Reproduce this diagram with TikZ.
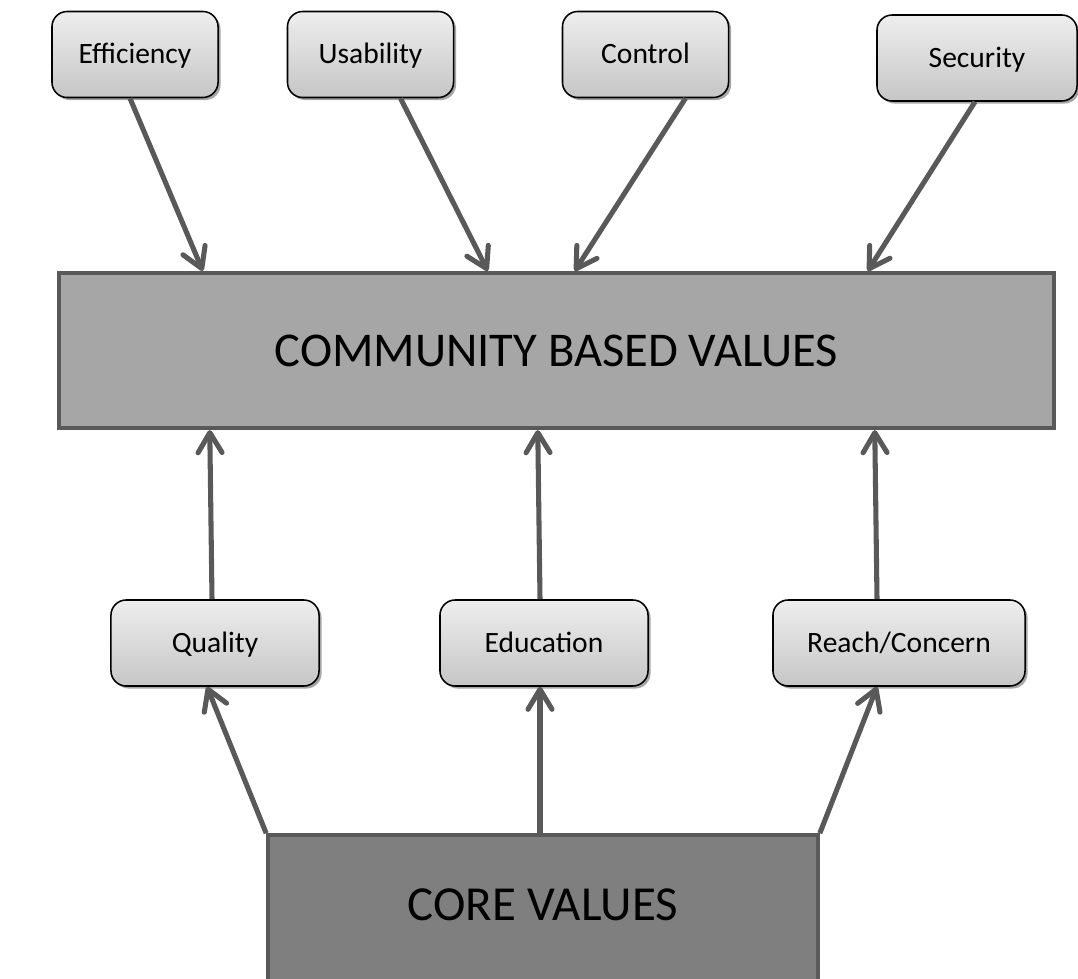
\documentclass[tikz,border=0pt]{standalone}
\usepackage{fontspec}
\setmainfont{Carlito}
\usetikzlibrary{arrows.meta,shadows,calc}
\definecolor{val_light}{RGB}{238,238,238}
\definecolor{val_dark}{RGB}{198,198,198}
\definecolor{val_mid}{RGB}{166,166,166}
\definecolor{val_core}{RGB}{127,127,127}
\definecolor{val_line}{RGB}{89,89,89}
\tikzstyle{sn}=[rectangle,rounded corners=0.38cm,top color=val_light,bottom color=val_dark,
  draw=black,line width=1.1pt,inner sep=3pt,minimum width=4.15cm,minimum height=2.15cm,
  font=\fontsize{21}{25}\selectfont,text height=13.5pt,text depth=0pt,
  drop shadow={shadow xshift=1.8pt,shadow yshift=-1.8pt,fill=black,opacity=0.35}]
\tikzstyle{cn}=[rectangle,fill=val_mid,draw=val_line,line width=3pt,
  minimum width=24.875cm,minimum height=3.875cm,font=\fontsize{34.5}{41}\selectfont,
  text height=22.2pt,text depth=0pt,
  drop shadow={shadow xshift=1.5pt,shadow yshift=-1.5pt,fill=black,opacity=0.2}]
\tikzstyle{kn}=[rectangle,fill=val_core,draw=val_line,line width=2.5pt,
  minimum width=13.75cm,minimum height=4.5cm,text height=22.4pt,text depth=28.4pt,
  font=\fontsize{34.8}{41}\selectfont]
\tikzstyle{ar}=[draw=val_line,line width=3.6pt,
  -{Straight Barb[length=0.5cm,width=0.6cm,round]}]

\begin{document}
\begin{tikzpicture}[x=0.025cm,y=-0.025cm]
            \clip (0,0) rectangle (1078,979);
            \node [style=sn] (0) at (135, 54.5) {Efficiency};
            \node [style=sn] (1) at (370.5, 54.5) {Usability};
            \node [style=sn] (2) at (645.5, 54.5) {Control};
            \node [style=sn, minimum width=5cm] (3) at (977, 58) {Security};
            \node [style=cn] (4) at (556.5, 350.5) {COMMUNITY BASED VALUES};
            \node [style=sn, minimum width=5.2cm] (5) at (215, 643) {Quality};
            \node [style=sn, minimum width=5.2cm] (6) at (544, 643) {Education};
            \node [style=sn, minimum width=6.3cm] (7) at (899, 643) {Reach/Concern};
            \node [style=kn] (8) at (543, 925) {CORE VALUES};
            \draw [style=ar] ($(0.south)+(-5,0)$) to ($(4.north west)+(146,0)$);
            \draw [style=ar] ($(1.south)+(30,0)$) to ($(4.north west)+(431,0)$);
            \draw [style=ar] ($(2.south)+(40,0)$) to ($(4.north west)+(518,0)$);
            \draw [style=ar] ($(3.south)+(-2,0)$) to ($(4.north west)+(811,0)$);
            \draw [style=ar] ($(5.north)+(-3,0)$) to ($(4.south west)+(153,0)$);
            \draw [style=ar] ($(6.north)+(-4,0)$) to ($(4.south west)+(481,0)$);
            \draw [style=ar] ($(7.north)+(-22,0)$) to ($(4.south west)+(818,0)$);
            \draw [style=ar] (8.north west) to ($(5.south)+(-8,0)$);
            \draw [style=ar] ($(8.north)+(-3,0)$) to ($(6.south)+(-4,0)$);
            \draw [style=ar] (8.north east) to ($(7.south)+(-22,0)$);
    \end{tikzpicture}
\end{document}
